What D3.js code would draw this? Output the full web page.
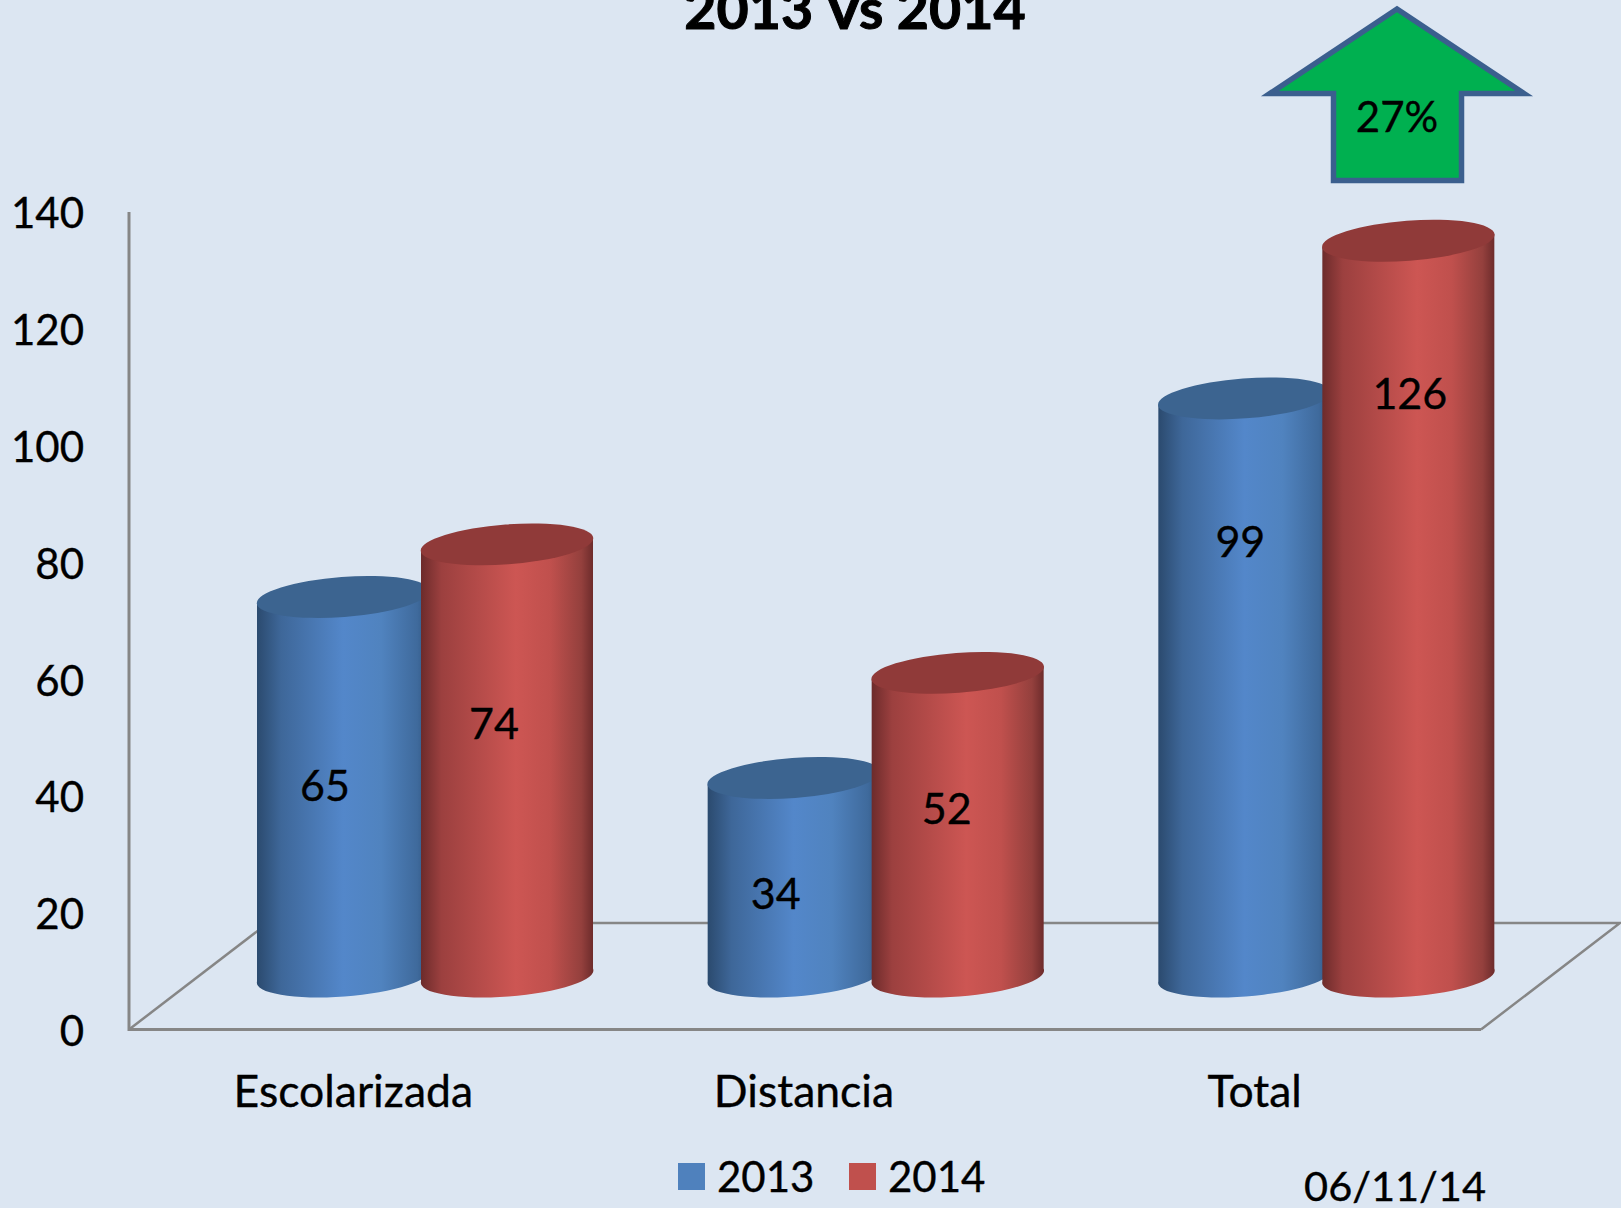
<!DOCTYPE html>
<html>
<head>
<meta charset="utf-8">
<script src="https://cdn.jsdelivr.net/npm/d3@7"></script>
<style>
  html, body { margin: 0; padding: 0; background: #dce6f2; overflow: hidden; }
  text { font-family: Lato, "Noto Sans", sans-serif; fill: #000; stroke: #000; stroke-width: 0.35; }
</style>
</head>
<body>
<svg id="chart" width="1621" height="1208"></svg>
<script>
const categories = ["Escolarizada", "Distancia", "Total"];
const seriesNames = ["2013", "2014"];
const values2013 = [65, 34, 99];
const values2014 = [74, 52, 126];
const yTicks = [0, 20, 40, 60, 80, 100, 120, 140];
const titleText = "2013 Vs 2014";
const changeText = "27%";
const dateText = "06/11/14";

// hand placed data labels in the original, nudged from the column centre [dx, y above the base]
const labelNudge2013 = [[-18, 188], [-18, 80], [-4, 432]];
const labelNudge2014 = [[-13, 250], [-11, 165], [1.5, 580]];

const svg = d3.select("#chart");
const defs = svg.append("defs");

const y = d3.scaleLinear().domain([0, 140]).range([1029.5, 212]);
const x = d3.scaleBand().domain(categories).range([129, 1481]);
const xInner = d3.scalePoint().domain(seriesNames).range([128, 292]);

const colWidth = 172;
const rx = 86.5;
const ry = 20;
const tilt = -4.3;
const slope = Math.tan((tilt * Math.PI) / 180) * colWidth;
const baseDrop = 54.5; // column base centre sits above the front floor line
const topDrop = 1.5;

const palette = {
  2013: {
    top: "#3c6490",
    stops: [[0, "#2b4a6e"], [0.14, "#3e6799"], [0.5, "#5387ca"], [0.72, "#5083bf"], [0.93, "#3f6a9c"], [1, "#2f5580"]],
  },
  2014: {
    top: "#903a39",
    stops: [[0, "#6c2b2b"], [0.12, "#9c403f"], [0.55, "#cd5653"], [0.75, "#c0504d"], [0.93, "#94403d"], [1, "#6c2b2b"]],
  },
};

seriesNames.forEach((s) => {
  const g = defs.append("linearGradient").attr("id", `side${s}`);
  g.selectAll("stop")
    .data(palette[s].stops)
    .enter()
    .append("stop")
    .attr("offset", (d) => d[0])
    .attr("stop-color", (d) => d[1]);
});

// floor and wall
const axisColor = "#868686";
const floorBack = 923;
const floorDepth = 139;
svg.append("path")
  .attr("d", `M${x.range()[0] + floorDepth},${floorBack}H${x.range()[1] + floorDepth}L${x.range()[1]},${y(0)}`)
  .attr("fill", "none").attr("stroke", axisColor).attr("stroke-width", 2.5);
svg.append("path")
  .attr("d", `M${x.range()[0]},${y(0)}L${x.range()[0] + floorDepth},${floorBack}`)
  .attr("fill", "none").attr("stroke", axisColor).attr("stroke-width", 2.5);
svg.append("path")
  .attr("d", `M${x.range()[0]},${y(140)}V${y(0)}H${x.range()[1]}`)
  .attr("fill", "none").attr("stroke", axisColor).attr("stroke-width", 3);

// value axis labels
svg.append("g")
  .attr("transform", `translate(${x.range()[0]},0)`)
  .call(d3.axisLeft(y).tickValues(yTicks).tickSize(0).tickPadding(45))
  .call((g) => g.select(".domain").remove())
  .selectAll("text")
  .attr("font-size", 42)
  .style("font-family", "Lato, 'Noto Sans', sans-serif")
  .attr("dy", "0.38em");

// columns
const columns = [];
seriesNames.forEach((s, si) => {
  const vals = si === 0 ? values2013 : values2014;
  const nudges = si === 0 ? labelNudge2013 : labelNudge2014;
  categories.forEach((c, ci) => {
    columns.push({ series: s, category: c, value: vals[ci], nudge: nudges[ci] });
  });
});

const colLeft = (d) => x(d.category) + xInner(d.series);
const baseY = (d) => y(0) - baseDrop;
const topY = (d) => baseY(d) - (y(0) - y(d.value)) + topDrop;

const col = svg.selectAll(".column")
  .data(columns)
  .enter()
  .append("g")
  .attr("class", "column")
  .attr("transform", (d) => `translate(${colLeft(d)},0)`);

col.append("path")
  .attr("fill", (d) => `url(#side${d.series})`)
  .attr("d", (d) => {
    const tl = topY(d) - slope / 2;
    const tr = topY(d) + slope / 2;
    const bl = baseY(d) - slope / 2;
    const br = baseY(d) + slope / 2;
    return `M0,${tl}L${colWidth},${tr}V${br}A${rx},${ry} ${tilt} 1 1 0,${bl}Z`;
  });

col.append("ellipse")
  .attr("fill", (d) => palette[d.series].top)
  .attr("rx", rx)
  .attr("ry", ry)
  .attr("transform", (d) => `translate(${colWidth / 2},${topY(d)}) rotate(${tilt})`);

svg.selectAll(".value-label")
  .data(columns)
  .enter()
  .append("text")
  .attr("class", "value-label")
  .attr("text-anchor", "middle")
  .attr("font-size", 43)
  .attr("dy", "0.36em")
  .attr("x", (d) => colLeft(d) + colWidth / 2 + d.nudge[0])
  .attr("y", (d) => y(0) - 55.5 - d.nudge[1])
  .text((d) => d.value);

// category labels
svg.selectAll(".cat-label")
  .data(categories)
  .enter()
  .append("text")
  .attr("class", "cat-label")
  .attr("text-anchor", "middle")
  .attr("font-size", 44.5)
  .attr("x", (d) => x(d) + x.bandwidth() / 2 - 1)
  .attr("y", 1106.5)
  .text((d) => d);

// title, clipped by the top of the picture as in the original
svg.append("text")
  .attr("x", 855).attr("y", 29)
  .attr("text-anchor", "middle")
  .attr("font-size", 55.5)
  .attr("font-weight", 700)
  .style("stroke-width", 1)
  .text(titleText);

// green arrow
svg.append("path")
  .attr("d", d3.line()([[1397, 9], [1524, 93.5], [1461.5, 93.5], [1461.5, 180.5], [1333.5, 180.5], [1333.5, 93.5], [1270, 93.5]]) + "Z")
  .attr("fill", "#00b050")
  .attr("stroke", "#3b5f8e")
  .attr("stroke-width", 5.5)
  .attr("stroke-linejoin", "miter")
  .attr("stroke-miterlimit", 10);
svg.append("text")
  .attr("x", 1397).attr("y", 132)
  .attr("text-anchor", "middle")
  .attr("font-size", 42)
  .text(changeText);

// legend
const legendX = d3.scalePoint().domain(seriesNames).range([678, 849]);
const legend = svg.selectAll(".legend")
  .data(seriesNames)
  .enter()
  .append("g")
  .attr("class", "legend")
  .attr("transform", (d) => `translate(${legendX(d)},1163)`);
legend.append("rect")
  .attr("width", 27).attr("height", 27)
  .attr("fill", (d) => (d === "2013" ? "#4f81bd" : "#c0504d"));
legend.append("text")
  .attr("x", 39).attr("y", 29)
  .attr("font-size", 42)
  .text((d) => d);

svg.append("text")
  .attr("x", 1486).attr("y", 1201)
  .attr("text-anchor", "end")
  .attr("font-size", 41.5)
  .text(dateText);
</script>
</body>
</html>
